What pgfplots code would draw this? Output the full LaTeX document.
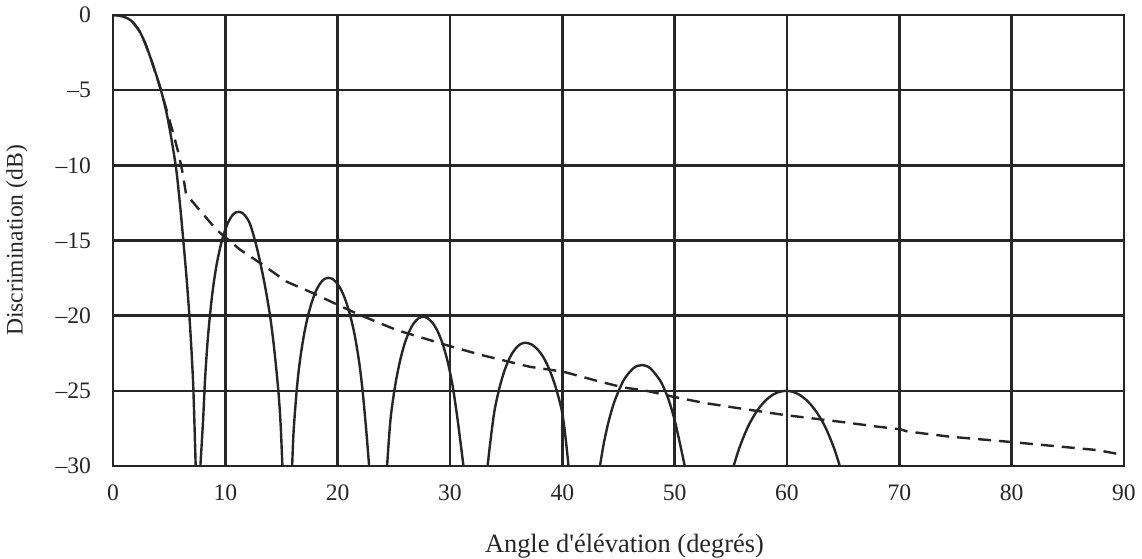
\documentclass[border=0pt]{standalone}
\usepackage{fontspec}
\setmainfont{Liberation Serif}[Ligatures=TeXOff]
\usepackage{pgfplots}
\pgfplotsset{compat=1.18}

\definecolor{ink}{HTML}{262626}

\begin{document}
\begin{tikzpicture}
% page frame: 1 px = 0.5 pt, axis box at (113,15)-(1124,466) px
\useasboundingbox (-56.5pt,-46pt) rectangle (514.5pt,233pt);
\begin{axis}[
  at={(0,0)}, anchor=south west,
  scale only axis,
  width=505.5pt, height=225.5pt,
  xmin=0, xmax=90, ymin=-30, ymax=0,
  xtick={0,10,...,90},
  xticklabels={0,10,20,30,40,50,60,70,80,90},
  ytick={-30,-25,...,0},
  yticklabels={–30,–25,–20,–15,–10,–5,0},
  major tick length=0pt,
  tick style={draw=none},
  grid=major,
  major grid style={ink, line width=1.3pt},
  axis line style={ink, line width=1.4pt},
  tick label style={font=\fontsize{11.8}{13}\selectfont, text=ink},
  xticklabel style={yshift=-6pt},
  yticklabel style={xshift=-7.5pt},
  xlabel={Angle d'élévation (degrés)},
  ylabel={Discrimination (dB)},
  label style={text=ink},
  xlabel style={font=\fontsize{13.2}{15}\selectfont, at={(axis description cs:0.5,0)}, anchor=center, yshift=-40pt, xshift=3pt},
  ylabel style={font=\fontsize{11.8}{14}\selectfont, at={(axis description cs:0,0.5)}, anchor=center, yshift=48pt},
  clip=true,
]
% main lobe
\addplot[ink, line width=1.2pt, smooth] coordinates {
  (0,0) (0.5,-0.03) (1.0,-0.12) (1.66,-0.4) (2.3,-1.0) (2.85,-1.85)
  (3.5,-3.2) (4.27,-5) (4.9,-7.0) (5.58,-10) (5.95,-12.5) (6.26,-15)
  (6.55,-17.5) (6.8,-20) (7.0,-22.5) (7.16,-25) (7.36,-30)
};
% first side lobe
\addplot[ink, line width=1.2pt, smooth] coordinates {
  (7.78,-30) (8.02,-26.95) (8.2,-24.18) (8.45,-21.43) (8.81,-18.73)
  (9.17,-16.84) (9.54,-15.47) (9.9,-14.48) (10.26,-13.78) (10.62,-13.33)
  (10.91,-13.14) (11.16,-13.09) (11.45,-13.14) (11.8,-13.38) (12.2,-13.9)
  (12.64,-15) (13.0,-16.1) (13.5,-17.9) (13.98,-20) (14.35,-22.2)
  (14.72,-25) (14.92,-27.2) (15.08,-30)
};
% second side lobe
\addplot[ink, line width=1.2pt, smooth] coordinates {
  (15.95,-30) (16.08,-27.68) (16.35,-25) (16.62,-23.12) (17.01,-21.23)
  (17.41,-19.86) (17.8,-18.87) (18.19,-18.17) (18.58,-17.72) (18.9,-17.53)
  (19.17,-17.48) (19.47,-17.53) (19.8,-17.72) (20.23,-18.17) (20.65,-18.87)
  (21.07,-19.86) (21.5,-21.23) (21.92,-23.12) (22.22,-25) (22.55,-27.68)
  (22.8,-30)
};
% third side lobe
\addplot[ink, line width=1.2pt, smooth] coordinates {
  (24.4,-30) (24.7,-26.93) (25.11,-24.69) (25.53,-23.08) (25.94,-21.91)
  (26.36,-21.07) (26.77,-20.51) (27.19,-20.18) (27.6,-20.07) (28.04,-20.18)
  (28.48,-20.51) (28.92,-21.07) (29.36,-21.91) (29.8,-23.08) (30.24,-24.69)
  (30.68,-26.93) (31.2,-30)
};
% fourth side lobe
\addplot[ink, line width=1.2pt, smooth] coordinates {
  (33.35,-30) (33.55,-28.66) (33.94,-26.42) (34.4,-24.81) (34.86,-23.64)
  (35.32,-22.8) (35.78,-22.24) (36.24,-21.91) (36.7,-21.8) (37.25,-21.91)
  (37.79,-22.24) (38.34,-22.8) (38.88,-23.64) (39.43,-24.81) (39.98,-26.42)
  (40.3,-28.2) (40.55,-30)
};
% fifth side lobe
\addplot[ink, line width=1.2pt, smooth] coordinates {
  (43.35,-30) (43.69,-28.5) (44.12,-27.04) (44.66,-25.67) (45.46,-24.29)
  (46.27,-23.53) (46.7,-23.34) (47.07,-23.29) (47.45,-23.34) (47.88,-23.53)
  (48.69,-24.29) (49.15,-25) (49.5,-25.67) (50.0,-26.95) (50.47,-28.5)
  (50.9,-30)
};
% sixth side lobe
\addplot[ink, line width=1.2pt, smooth] coordinates {
  (55.25,-30) (55.78,-28.75) (56.53,-27.38) (57.28,-26.39) (58.03,-25.69)
  (58.78,-25.24) (59.38,-25.06) (59.9,-25.0) (60.44,-25.05) (61.06,-25.24)
  (61.84,-25.69) (62.61,-26.39) (63.39,-27.38) (64.16,-28.75) (64.7,-30)
};
% envelope
\addplot[ink, line width=1.2pt, dash pattern=on 6.5pt off 4pt] coordinates {
  (0,0) (0.5,-0.03) (1.0,-0.12) (1.66,-0.4) (2.3,-1.0) (2.85,-1.85)
  (3.5,-3.2) (4.27,-5) (4.8,-6.4) (5.3,-7.7) (5.8,-9.1) (6.2,-10.5)
  (6.5,-11.9) (7.45,-12.75) (9.23,-14.3) (11.3,-15.6) (13.1,-16.5)
  (15.46,-17.74) (17.8,-18.5) (20.35,-19.4) (22,-19.96) (25.26,-20.96)
  (29.7,-21.96) (32.7,-22.6) (37.1,-23.4) (40.1,-23.73) (43.4,-24.4)
  (45.4,-24.77) (47.5,-25.0) (49.9,-25.4) (52.6,-25.8) (55.2,-26.1)
  (59.7,-26.6) (65.2,-27.1) (67.7,-27.35) (70.1,-27.56) (70.7,-27.7)
  (74.5,-28.05) (79.9,-28.4) (87.6,-28.94) (90,-29.27)
};
\end{axis}
\end{tikzpicture}
\end{document}
